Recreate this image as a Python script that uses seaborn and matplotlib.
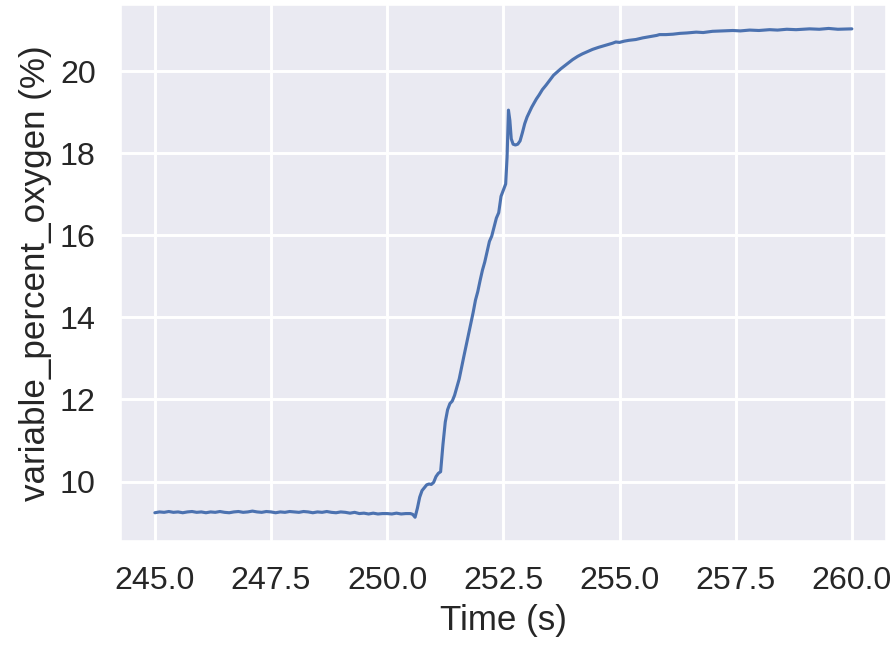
import numpy as np
import pandas as pd
import matplotlib
matplotlib.use("Agg")
import matplotlib.pyplot as plt
import seaborn as sns

time_s = [
    245.0, 245.1, 245.2, 245.3, 245.4, 245.5, 245.6, 245.7, 245.8, 245.9,
    246.0, 246.1, 246.2, 246.3, 246.4, 246.5, 246.6, 246.7, 246.8, 246.9,
    247.0, 247.1, 247.2, 247.3, 247.4, 247.5, 247.6, 247.7, 247.8, 247.9,
    248.0, 248.1, 248.2, 248.3, 248.4, 248.5, 248.6, 248.7, 248.8, 248.9,
    249.0, 249.1, 249.2, 249.3, 249.4, 249.5, 249.6, 249.7, 249.8, 249.9,
    250.0, 250.1, 250.2, 250.3, 250.4, 250.5,
    250.55, 250.60, 250.65, 250.70, 250.75, 250.80, 250.85, 250.90, 250.95,
    251.00, 251.05, 251.10, 251.15, 251.20, 251.25, 251.30, 251.35, 251.40,
    251.45, 251.50, 251.55, 251.60, 251.65, 251.70, 251.75, 251.80, 251.85,
    251.90, 251.95, 252.00, 252.05, 252.10, 252.15, 252.20, 252.25, 252.30,
    252.35, 252.40, 252.45, 252.50, 252.55, 252.58, 252.61, 252.64, 252.67,
    252.71, 252.76, 252.81, 252.86, 252.91, 252.96, 253.01, 253.06, 253.11,
    253.16, 253.21, 253.27, 253.34, 253.42, 253.50, 253.58, 253.66, 253.74,
    253.82, 253.90, 253.99, 254.10, 254.20, 254.30, 254.42, 254.55, 254.70,
    254.85, 254.92, 255.00, 255.10, 255.20, 255.35, 255.50, 255.65, 255.80,
    255.86, 256.00, 256.15, 256.30, 256.45, 256.65, 256.80, 257.00, 257.20,
    257.44, 257.60, 257.80, 258.00, 258.23, 258.40, 258.60, 258.80, 259.09,
    259.30, 259.50, 259.70, 260.00,
]

oxygen_pct = [
    9.24, 9.26, 9.25, 9.27, 9.25, 9.26, 9.24, 9.26, 9.27, 9.25,
    9.26, 9.24, 9.26, 9.25, 9.27, 9.25, 9.24, 9.26, 9.27, 9.25,
    9.26, 9.28, 9.26, 9.25, 9.27, 9.26, 9.24, 9.26, 9.25, 9.27,
    9.26, 9.25, 9.27, 9.26, 9.24, 9.26, 9.25, 9.27, 9.25, 9.24,
    9.26, 9.25, 9.23, 9.25, 9.22, 9.23, 9.21, 9.23, 9.21, 9.22,
    9.22, 9.21, 9.23, 9.21, 9.22, 9.22,
    9.20, 9.13, 9.35, 9.62, 9.78, 9.85, 9.92, 9.94, 9.93,
    9.98, 10.12, 10.20, 10.24, 10.90, 11.45, 11.75, 11.90, 11.96,
    12.10, 12.30, 12.50, 12.78, 13.05, 13.32, 13.58, 13.85, 14.12,
    14.42, 14.63, 14.90, 15.15, 15.35, 15.60, 15.85, 15.98, 16.20,
    16.42, 16.55, 16.95, 17.10, 17.25, 17.90, 19.05, 18.80, 18.35,
    18.22, 18.20, 18.22, 18.30, 18.50, 18.72, 18.88, 19.00, 19.12,
    19.22, 19.32, 19.42, 19.55, 19.66, 19.78, 19.90, 19.98, 20.06,
    20.13, 20.20, 20.28, 20.36, 20.42, 20.47, 20.53, 20.58, 20.63,
    20.68, 20.71, 20.70, 20.73, 20.75, 20.77, 20.81, 20.84, 20.87,
    20.89, 20.89, 20.90, 20.92, 20.93, 20.95, 20.94, 20.97, 20.98,
    20.99, 20.98, 21.00, 20.99, 21.01, 21.00, 21.02, 21.01, 21.03,
    21.02, 21.04, 21.02, 21.03,
]

df = pd.DataFrame({"Time (s)": time_s, "variable_percent_oxygen (%)": oxygen_pct})

sns.set_theme(style="darkgrid", context="talk")
plt.rcParams["font.family"] = ["Liberation Sans", "DejaVu Sans"]

fig, ax = plt.subplots(figsize=(6.4, 648 / 140), dpi=140)
fig.subplots_adjust(left=120 / 896, right=886.7 / 896, top=1 - 4 / 648, bottom=1 - 541.7 / 648)

sns.lineplot(data=df, x="Time (s)", y="variable_percent_oxygen (%)", ax=ax,
             color="#4c72b0", linewidth=1.6)

fig.savefig("out.png", dpi=140)
